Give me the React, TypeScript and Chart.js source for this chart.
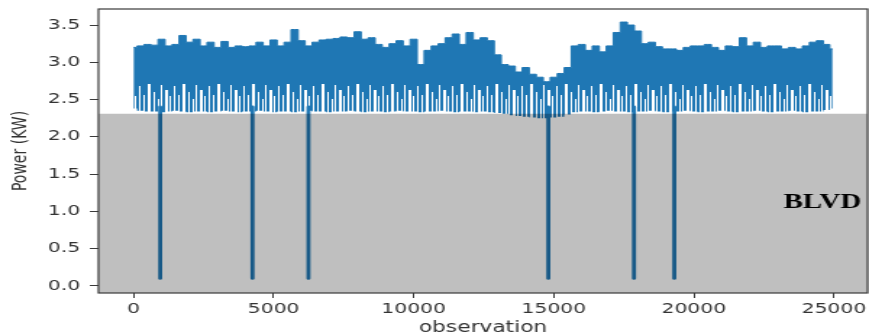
import React, { useEffect, useRef } from 'react';
import { Chart, registerables } from 'chart.js';

Chart.register(...registerables);

// ---------- data ----------
const sampleObs = [
  0, 250, 500, 750, 1000, 1250, 1500, 1750, 2000, 2250,
  2500, 2750, 3000, 3250, 3500, 3750, 4000, 4250, 4500, 4750,
  5000, 5250, 5500, 5750, 6000, 6250, 6500, 6750, 7000, 7250,
  7500, 7750, 8000, 8250, 8500, 8750, 9000, 9250, 9500, 9750,
  10000, 10250, 10500, 10750, 11000, 11250, 11500, 11750, 12000, 12250,
  12500, 12750, 13000, 13250, 13500, 13750, 14000, 14250, 14500, 14750,
  15000, 15250, 15500, 15750, 16000, 16250, 16500, 16750, 17000, 17250,
  17500, 17750, 18000, 18250, 18500, 18750, 19000, 19250, 19500, 19750,
  20000, 20250, 20500, 20750, 21000, 21250, 21500, 21750, 22000, 22250,
  22500, 22750, 23000, 23250, 23500, 23750, 24000, 24250, 24500, 24750,
  24950,
];

const upperPower = [
  3.20, 3.22, 3.24, 3.23, 3.31, 3.22, 3.24, 3.36, 3.27, 3.31,
  3.22, 3.27, 3.20, 3.28, 3.20, 3.22, 3.21, 3.22, 3.27, 3.22,
  3.30, 3.22, 3.27, 3.44, 3.29, 3.22, 3.27, 3.30, 3.31, 3.32,
  3.34, 3.33, 3.41, 3.31, 3.33, 3.24, 3.20, 3.25, 3.29, 3.22,
  3.31, 2.97, 3.16, 3.22, 3.25, 3.33, 3.38, 3.24, 3.40, 3.30,
  3.33, 3.29, 3.10, 2.97, 2.95, 2.87, 2.93, 2.84, 2.80, 2.74,
  2.80, 2.85, 2.93, 3.22, 3.24, 3.16, 3.22, 3.14, 3.22, 3.40,
  3.54, 3.50, 3.42, 3.25, 3.27, 3.21, 3.18, 3.18, 3.16, 3.20,
  3.22, 3.22, 3.24, 3.20, 3.16, 3.22, 3.21, 3.33, 3.22, 3.27,
  3.20, 3.22, 3.22, 3.18, 3.20, 3.18, 3.22, 3.27, 3.29, 3.24,
  3.18,
];

const lowerPower = [
  2.38, 2.35, 2.34, 2.34, 2.33, 2.34, 2.35, 2.34, 2.33, 2.34,
  2.34, 2.33, 2.34, 2.35, 2.34, 2.33, 2.34, 2.34, 2.35, 2.34,
  2.33, 2.34, 2.34, 2.33, 2.34, 2.35, 2.34, 2.34, 2.33, 2.34,
  2.34, 2.35, 2.34, 2.33, 2.34, 2.34, 2.33, 2.34, 2.35, 2.34,
  2.34, 2.33, 2.34, 2.34, 2.35, 2.34, 2.33, 2.34, 2.34, 2.33,
  2.34, 2.33, 2.32, 2.31, 2.29, 2.28, 2.27, 2.26, 2.25, 2.25,
  2.26, 2.27, 2.30, 2.33, 2.34, 2.34, 2.33, 2.34, 2.35, 2.34,
  2.34, 2.33, 2.34, 2.34, 2.35, 2.34, 2.33, 2.34, 2.34, 2.35,
  2.34, 2.33, 2.34, 2.34, 2.35, 2.34, 2.33, 2.34, 2.34, 2.35,
  2.34, 2.33, 2.34, 2.34, 2.35, 2.34, 2.33, 2.34, 2.34, 2.36,
  2.38,
];

const dipObs = [952, 4246, 6244, 14806, 17863, 19302];
const dipMin = [0.1, 0.1, 0.1, 0.1, 0.1, 0.1];
const dipTop = 2.4;

const thresholdPower = 2.31;

const xTickValues = [0, 5000, 10000, 15000, 20000, 25000];
const yTickValues = [0, 0.5, 1, 1.5, 2, 2.5, 3, 3.5];
const xMin = -1250;
const xMax = 26200;
const yMin = -0.095;
const yMax = 3.715;

const xTitle = 'observation';
const yTitle = 'Power (KW)';
const regionLabel = 'BLVD';
const regionLabelObs = 24590;
const regionLabelPower = 1.11;

// ---------- styling ----------
const W = 600; // internal canvas width (displayed stretched to 869px like the reference)
const H = 335;
const BLUE = '#1f77b4';
const AXIS = '#3a3a3a';
const FONT = 'DejaVu Sans';

function makeStripePattern(ctx: CanvasRenderingContext2D) {
  const c = document.createElement('canvas');
  c.width = 24;
  c.height = H;
  const g = c.getContext('2d')!;
  g.fillStyle = BLUE;
  g.fillRect(0, 0, 24, H);
  // [x offset, first row, width] of the light gaps between the dense samples
  const stripes: [number, number, number][] = [
    [0, 86, 1], [3, 95, 1], [6, 84, 2], [10, 92, 1], [13, 99, 1],
    [15, 85, 1], [18, 90, 2], [21, 96, 1],
  ];
  stripes.forEach(([sx, sy, sw]) => g.clearRect(sx, sy, sw, H - sy));
  return ctx.createPattern(c, 'repeat');
}

const framePlugin = {
  id: 'frame',
  afterDatasetsDraw(chart: any) {
    const { ctx, chartArea } = chart;
    const { left, top, right, bottom } = chartArea;
    ctx.save();
    ctx.strokeStyle = AXIS;
    ctx.lineWidth = 1.2;
    ctx.strokeRect(left, top, right - left, bottom - top);
    ctx.restore();
  },
};

const labelPlugin = {
  id: 'regionLabel',
  afterDatasetsDraw(chart: any) {
    const { ctx, scales } = chart;
    const px = scales.x.getPixelForValue(regionLabelObs);
    const py = scales.y.getPixelForValue(regionLabelPower);
    ctx.save();
    ctx.font = 'bold 20px "Liberation Serif"';
    ctx.fillStyle = '#000';
    ctx.textAlign = 'center';
    ctx.textBaseline = 'middle';
    ctx.fillText(regionLabel, px, py);
    ctx.restore();
  },
};

export default function App() {
  const ref = useRef<HTMLCanvasElement>(null);

  useEffect(() => {
    const canvas = ref.current!;
    const ctx = canvas.getContext('2d')!;
    const pattern = makeStripePattern(ctx);

    const upperPoints = sampleObs.map((x, i) => ({ x, y: upperPower[i] }));
    const lowerPoints = sampleObs.map((x, i) => ({ x, y: lowerPower[i] }));
    const dipPoints: any[] = [];
    dipObs.forEach((x, i) => {
      dipPoints.push({ x, y: dipTop });
      dipPoints.push({ x, y: dipMin[i] });
      dipPoints.push({ x, y: null });
    });

    const chart = new Chart(canvas, {
      type: 'line',
      data: {
        datasets: [
          {
            label: 'threshold',
            data: [
              { x: xMin, y: thresholdPower },
              { x: xMax, y: thresholdPower },
            ],
            borderColor: 'rgba(0,0,0,0)',
            borderWidth: 0,
            pointRadius: 0,
            fill: 'start',
            backgroundColor: 'rgba(0,0,0,0.25)',
            order: 1,
          },
          {
            label: 'dips',
            data: dipPoints,
            borderColor: BLUE,
            borderWidth: 2.8,
            borderCapStyle: 'round',
            pointRadius: 0,
            fill: false,
            spanGaps: false,
            order: 2,
          },
          {
            label: 'power',
            data: upperPoints,
            borderColor: BLUE,
            borderWidth: 1,
            pointRadius: 0,
            stepped: 'middle',
            fill: 3,
            backgroundColor: pattern as any,
            order: 3,
          },
          {
            label: 'lower',
            data: lowerPoints,
            borderColor: 'rgba(0,0,0,0)',
            borderWidth: 0,
            pointRadius: 0,
            stepped: 'middle',
            fill: false,
            order: 4,
          },
        ] as any,
      },
      options: {
        animation: false,
        responsive: false,
        devicePixelRatio: 1,
        events: [],
        layout: { padding: { left: 0, right: 1, top: 9, bottom: 0 } },
        plugins: {
          legend: { display: false },
          tooltip: { enabled: false },
        },
        scales: {
          x: {
            type: 'linear',
            min: xMin,
            max: xMax,
            afterBuildTicks: (s: any) => {
              s.ticks = xTickValues.map((v) => ({ value: v }));
            },
            afterFit: (s: any) => {
              s.height = 42;
              s.paddingLeft = 0;
              s.paddingRight = 0;
            },
            ticks: {
              callback: (v: any) => String(v),
              font: { family: FONT, size: 14 },
              color: '#333',
              padding: 3,
              maxRotation: 0,
              autoSkip: false,
            },
            grid: {
              drawOnChartArea: false,
              drawTicks: true,
              tickLength: 5,
              color: AXIS,
              lineWidth: 1,
            },
            border: { display: false },
            title: {
              display: true,
              text: xTitle,
              font: { family: FONT, size: 15 },
              color: '#333',
              padding: { top: 0, bottom: -2 },
            },
          },
          y: {
            type: 'linear',
            min: yMin,
            max: yMax,
            afterBuildTicks: (s: any) => {
              s.ticks = yTickValues.map((v) => ({ value: v }));
            },
            afterFit: (s: any) => {
              s.width = 68;
              s.paddingTop = 0;
              s.paddingBottom = 0;
            },
            ticks: {
              callback: (v: any) => Number(v).toFixed(1),
              font: { family: FONT, size: 14 },
              color: '#333',
              padding: 6.7,
              autoSkip: false,
            },
            grid: {
              drawOnChartArea: false,
              drawTicks: true,
              tickLength: 6,
              color: AXIS,
              lineWidth: 1,
            },
            border: { display: false },
            title: {
              display: true,
              text: yTitle,
              font: { family: FONT, size: 14 },
              color: '#333',
              padding: { top: 5.5, bottom: 0 },
            },
          },
        },
      } as any,
      plugins: [framePlugin, labelPlugin],
    });

    return () => chart.destroy();
  }, []);

  return (
    <div
      style={{
        position: 'absolute',
        left: 0,
        top: 0,
        width: 869,
        height: 335,
        background: '#fff',
      }}
    >
      <canvas
        ref={ref}
        width={W}
        height={H}
        style={{ width: '869px', height: '335px', display: 'block' }}
      />
    </div>
  );
}
